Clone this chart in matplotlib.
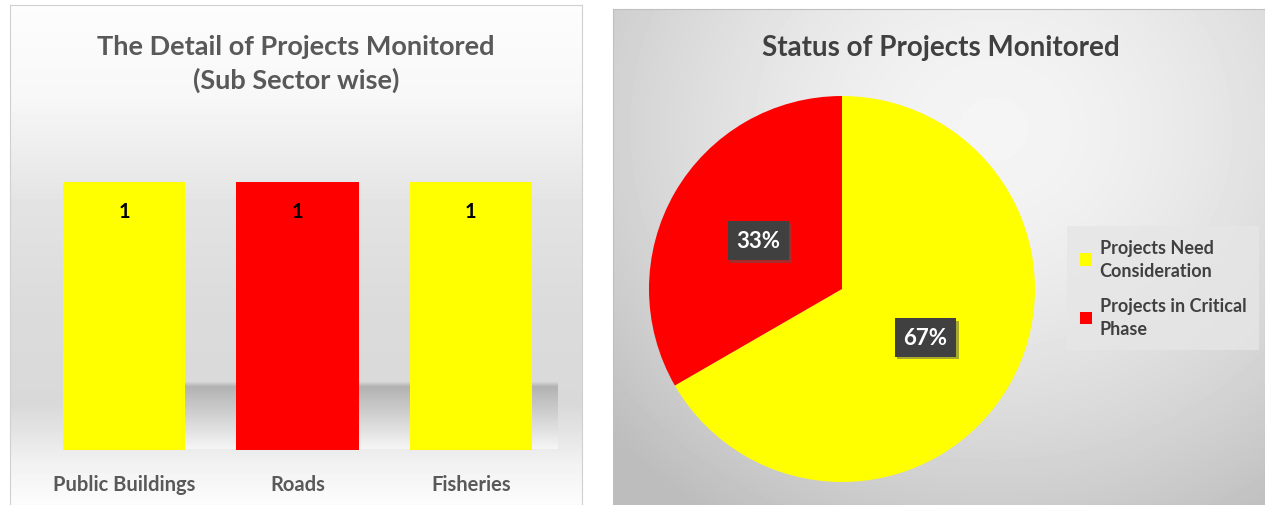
import numpy as np
import matplotlib.pyplot as plt
import matplotlib.patheffects as pe

## --- Data ---
sectors = ["Public Buildings", "Roads", "Fisheries"]
projects = [1, 1, 1]
bar_colors = ["#FFFF00", "#FF0000", "#FFFF00"]

status = ["Projects Need\nConsideration", "Projects in Critical\nPhase"]
status_counts = [2, 1]
status_colors = ["#FFFF00", "#FF0000"]

W, H = 1265, 506
plt.rcParams['font.family'] = ['Lato', 'DejaVu Sans']
fig = plt.figure(figsize=(W / 100, H / 100), dpi=100)
fig.patch.set_facecolor("white")


def px_axes(x0, y0, x1, y1, **kw):
    # axes from pixel box (top-left origin)
    return fig.add_axes([x0 / W, 1 - y1 / H, (x1 - x0) / W, (y1 - y0) / H], **kw)


## --- Left panel background ---
bg1 = px_axes(10, 6, 582, 506)
ys = np.arange(500)
shade = np.interp(ys, [0, 90, 200, 300, 400, 460, 500], [0.99, 0.97, 0.89, 0.86, 0.85, 0.95, 0.99])
bg1.imshow(np.tile(shade[:, None], (1, 10)), cmap="gray", vmin=0, vmax=1, aspect="auto",
           extent=(0, 1, 0, 1))
bg1.set_xticks([]); bg1.set_yticks([])
for s in bg1.spines.values():
    s.set_color("#d0d0d0")

# floor shadow behind bars
sh = px_axes(150, 383, 558, 450)
fade = np.interp(np.arange(64), [0, 4, 63], [0.82, 0.70, 0.96])
sh.imshow(np.tile(fade[:, None], (1, 10)), cmap="gray", vmin=0, vmax=1, aspect="auto",
          extent=(0, 1, 0, 1))
sh.axis("off")

## --- Bar chart ---
ax1 = px_axes(37.5, 116, 557.5, 451)
ax1.set_facecolor("none")
x = np.arange(len(sectors))
ax1.bar(x, projects, width=0.705, color=bar_colors, zorder=3)
for xi, v in zip(x, projects):
    ax1.text(xi, v - 0.11, str(v), ha="center", va="center", fontsize=14.5,
             fontweight="bold", color="black", zorder=4)
ax1.set_xlim(-0.5, 2.5)
ax1.set_ylim(0, 1.25)
ax1.set_xticks(x)
ax1.set_xticklabels(sectors, fontsize=14.5, fontweight="bold", color="#595959")
ax1.tick_params(axis="x", length=0, pad=17)
ax1.set_yticks([])
for s in ax1.spines.values():
    s.set_visible(False)
fig.text(296 / W, 1 - 64 / H, "The Detail of Projects Monitored\n(Sub Sector wise)",
         ha="center", va="center", fontsize=19.5, fontweight="bold", color="#595959",
         linespacing=1.4)

## --- Right panel background ---
bg2 = px_axes(613, 10, 1265, 506)
gx, gy = np.meshgrid(np.arange(652), np.arange(496))
dist = np.hypot(gx - 380, (gy - 120) * 1.1)
rad = np.clip(0.96 - 0.20 * (dist / 480) ** 1.6, 0.74, 0.97)
bg2.imshow(rad, cmap="gray", vmin=0, vmax=1, aspect="auto", extent=(0, 1, 0, 1))
bg2.set_xticks([]); bg2.set_yticks([])
for s in bg2.spines.values():
    s.set_color("#c0c0c0")

## --- Pie chart ---
ax2 = px_axes(649, 97, 1035, 483)
ax2.set_facecolor("none")
wedges = ax2.pie(status_counts, colors=status_colors, startangle=90,
                 counterclock=False, radius=1, wedgeprops=dict(linewidth=0))[0]
total = sum(status_counts)
for w, c in zip(wedges, status_counts):
    ang = np.deg2rad((w.theta1 + w.theta2) / 2)
    t = ax2.text(0.5 * np.cos(ang), 0.5 * np.sin(ang), f"{100 * c / total:.0f}%",
                 ha="center", va="center", fontsize=16, fontweight="bold", color="white",
                 bbox=dict(boxstyle="square,pad=0.4", fc="#404040", ec="none"))
    t.get_bbox_patch().set_path_effects([
        pe.SimplePatchShadow(offset=(2, -2), shadow_rgbFace="#555555", alpha=0.5),
        pe.Normal()])
ax2.set_xlim(-1, 1)
ax2.set_ylim(-1, 1)
ax2.set_aspect("auto")

leg = fig.legend(wedges, status, loc="upper left",
                 bbox_to_anchor=(1067 / W, 1 - 227 / H), frameon=True, fancybox=False,
                 prop=dict(size=13, weight="bold"), labelcolor="#404040",
                 handlelength=0.7, handleheight=0.7, handletextpad=0.4,
                 labelspacing=1.0, borderpad=0.7, borderaxespad=0)
for t in leg.get_texts():
    t.set_linespacing(1.45)
leg.get_frame().set_facecolor("#e6e6e6")
leg.get_frame().set_edgecolor("none")
leg.get_frame().set_alpha(0.8)

fig.text(941 / W, 1 - 48 / H, "Status of Projects Monitored", ha="center", va="center",
         fontsize=20, fontweight="bold", color="#404040")

plt.savefig("out.png", dpi=100)
